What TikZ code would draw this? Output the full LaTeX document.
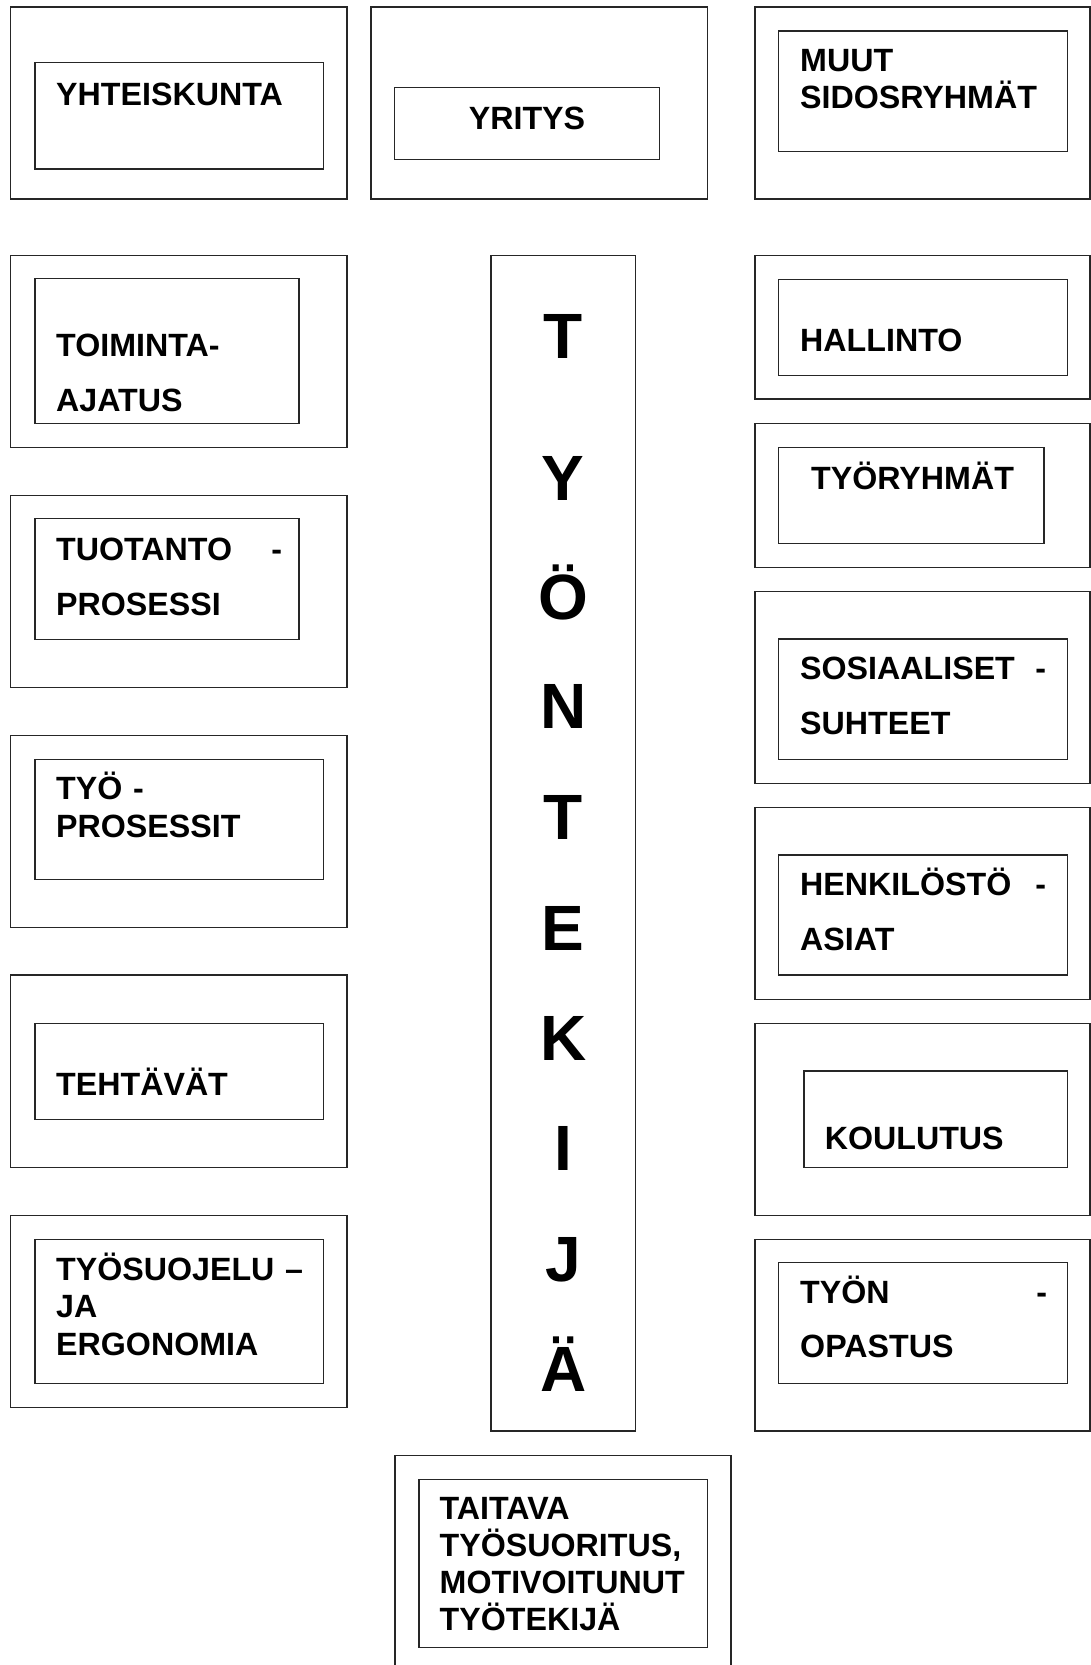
\documentclass[tikz,border=0pt]{standalone}
\usepackage{fontspec}
\setmainfont{Liberation Sans}
\usepackage{tikz}
\usetikzlibrary{fit}

\begin{document}
\begin{tikzpicture}[x=1pt, y=-1pt,
		kehys/.style={draw=black!85, line width=1.5pt, inner sep=0pt},
		boxtext/.style={anchor=base west, inner sep=0pt, align=left, font=\bfseries\fontsize{32.2}{37}\selectfont},
		boxtextwide/.style={boxtext, font=\bfseries\fontsize{32.2}{55}\selectfont},
		isokirjain/.style={anchor=base, inner sep=0pt, font=\bfseries\fontsize{64}{64}\selectfont}]
		\useasboundingbox (0,0) rectangle (1091,1665);
		% ylarivi
		\node[kehys, fit={(10.5,7) (347,199)}] (yhtO) {};
		\node[kehys, fit={(34.8,62.7) (323.6,169)}] (yhtI) {};
		\node[boxtext] (yhtT) at (56,105) {YHTEISKUNTA};
		\node[kehys, fit={(371,7) (707.7,199)}] (yritO) {};
		\node[kehys, fit={(394.6,87.3) (659.7,159.7)}] (yritI) {};
		\node[boxtext, anchor=base] (yritT) at (527,129) {YRITYS};
		\node[kehys, fit={(755,7) (1090,199)}] (muutO) {};
		\node[kehys, fit={(778.7,31) (1067.6,151.7)}] (muutI) {};
		\node[boxtext, text width=270pt] (muutT) at (800,71.7) {MUUT\\SIDOSRYHMÄT};
		% vasen sarake
		\node[kehys, fit={(10.5,255.7) (347,447.7)}] (toimO) {};
		\node[kehys, fit={(34.8,278.7) (299.2,423.7)}] (toimI) {};
		\node[boxtextwide, text width=240pt] (toimT) at (56,356) {TOIMINTA-\\AJATUS};
		\node[kehys, fit={(10.5,495.3) (347,687.3)}] (tuotO) {};
		\node[kehys, fit={(34.8,518.7) (299.2,639.3)}] (tuotI) {};
		\node[boxtextwide, text width=226pt] (tuotT) at (56,560) {TUOTANTO\hfill-\\PROSESSI};
		\node[kehys, fit={(10.5,735.7) (347,927.3)}] (tyopO) {};
		\node[kehys, fit={(34.8,759.3) (323.6,879.3)}] (tyopI) {};
		\node[boxtext, text width=260pt, font=\bfseries\fontsize{32.2}{38.7}\selectfont] (tyopT) at (56,799) {TYÖ -\\PROSESSIT};
		\node[kehys, fit={(10.5,975) (347,1167.7)}] (tehtO) {};
		\node[kehys, fit={(34.8,1023.3) (323.6,1119.3)}] (tehtI) {};
		\node[boxtext] (tehtT) at (56,1095.7) {TEHTÄVÄT};
		\node[kehys, fit={(10.5,1215.7) (347,1407.7)}] (suojO) {};
		\node[kehys, fit={(34.8,1239.3) (323.6,1383.3)}] (suojI) {};
		\node[boxtext, text width=260pt, font=\bfseries\fontsize{32.2}{37.5}\selectfont] (suojT) at (56,1280) {TYÖSUOJELU –\\JA\\ERGONOMIA};
		% keskisarake
		\node[kehys, fit={(491,255.5) (635.3,1431)}] (tyontekija) {};
		\foreach \kirjain/\yy [count=\i] in {T/358.3, Y/500, Ö/619.3, N/728.3, T/839.3, E/950, K/1060, I/1170, J/1281, Ä/1391.7}
			\node[isokirjain] (kirjain\i) at (563.2,\yy) {\kirjain};
		% oikea sarake
		\node[kehys, fit={(755,255.7) (1090,399)}] (hallO) {};
		\node[kehys, fit={(778.7,279.3) (1067.6,375.7)}] (hallI) {};
		\node[boxtext] (hallT) at (800,351.7) {HALLINTO};
		\node[kehys, fit={(755,423.3) (1090,567.7)}] (tryhO) {};
		\node[kehys, fit={(778.7,447.3) (1043.8,543.7)}] (tryhI) {};
		\node[boxtext] (tryhT) at (811,489.3) {TYÖRYHMÄT};
		\node[kehys, fit={(755,591.7) (1090,783.3)}] (sosiO) {};
		\node[kehys, fit={(778.7,639) (1067.6,759.3)}] (sosiI) {};
		\node[boxtextwide, text width=246pt] (sosiT) at (800,679.3) {SOSIAALISET\hfill-\\SUHTEET};
		\node[kehys, fit={(755,807.3) (1090,999.3)}] (henkO) {};
		\node[kehys, fit={(778.7,855) (1067.6,975)}] (henkI) {};
		\node[boxtextwide, text width=246pt] (henkT) at (800,895.7) {HENKILÖSTÖ\hfill-\\ASIAT};
		\node[kehys, fit={(755,1023.3) (1090,1215.7)}] (koulO) {};
		\node[kehys, fit={(803.8,1071) (1067.6,1167.7)}] (koulI) {};
		\node[boxtext] (koulT) at (824.6,1149) {KOULUTUS};
		\node[kehys, fit={(755,1239.3) (1090,1431)}] (opasO) {};
		\node[kehys, fit={(778.7,1262.7) (1067.6,1383.3)}] (opasI) {};
		\node[boxtextwide, text width=247pt, font=\bfseries\fontsize{32.2}{54.4}\selectfont] (opasT) at (800,1303.3) {TYÖN\hfill-\\OPASTUS};
		% alalaatikko
		\node[kehys, fit={(395,1455.5) (731,1675)}] (taitO) {};
		\node[kehys, fit={(419,1479.5) (707.7,1647.5)}] (taitI) {};
		\node[boxtext, text width=270pt] (taitT) at (439.5,1519.3) {TAITAVA\\TYÖSUORITUS,\\MOTIVOITUNUT\\TYÖTEKIJÄ};
	\end{tikzpicture}
\end{document}
